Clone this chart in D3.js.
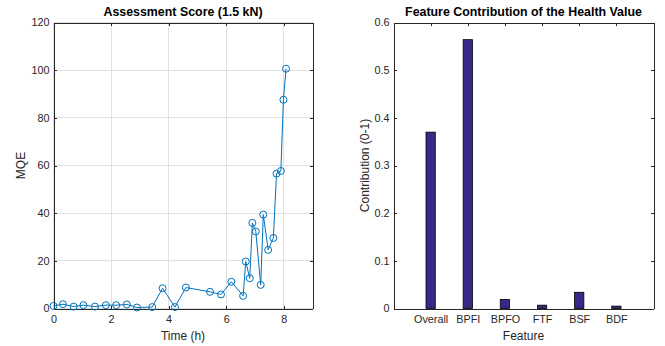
<!DOCTYPE html>
<html>
<head>
<meta charset="utf-8">
<script src="https://cdn.jsdelivr.net/npm/d3@7"></script>
<style>
  html, body { margin: 0; padding: 0; background: #fff; }
  svg { display: block; font-family: "Liberation Sans", Arial, Helvetica, sans-serif; }
</style>
</head>
<body>
<svg id="chart" width="665" height="346"></svg>
<script>
// Assessment score (MQE) over run time
const timeHours = [0, 0.33, 0.70, 1.04, 1.44, 1.82, 2.18, 2.55, 2.90, 3.43, 3.79, 4.22, 4.60,
  5.44, 5.82, 6.18, 6.59, 6.68, 6.82, 6.91, 7.03, 7.20, 7.29, 7.46, 7.64, 7.75, 7.90, 7.99, 8.08];
const mqe = [1.1, 1.8, 0.8, 1.4, 0.8, 1.4, 1.4, 1.7, 0.4, 0.6, 8.5, 0.6, 8.8,
  7.0, 5.9, 11.2, 5.3, 19.7, 12.7, 35.9, 32.3, 9.9, 39.4, 24.6, 29.6, 56.6, 57.7, 87.6, 100.6];
const timeTicks = [0, 2, 4, 6, 8];
const mqeTicks = [0, 20, 40, 60, 80, 100, 120];

// Feature contribution to the health value
const features = ["Overall", "BPFI", "BPFO", "FTF", "BSF", "BDF"];
const contribution = [0.370, 0.564, 0.019, 0.007, 0.034, 0.005];
const contribTicks = [0, 0.1, 0.2, 0.3, 0.4, 0.5, 0.6];

const axisColor = "#262626";
const gridColor = "#e0e0e0";
const lineColor = "#0072bd";
const barColor = "#352a87";
const tickLen = 3;
const tickFont = 10.8;
const labelFont = 12;
const titleFont = 12.4;

const svg = d3.select("#chart");

// Boxed axes with inward ticks on all four sides, optional grid
function boxAxes(g, x, y, xTicks, yTicks, xFmt, yFmt, grid) {
  const [x0, x1] = x.range();
  const [y0, y1] = y.range();
  if (grid) {
    g.append("g").selectAll("line").data(xTicks).join("line")
      .attr("x1", d => x(d)).attr("x2", d => x(d)).attr("y1", y0).attr("y2", y1)
      .attr("stroke", gridColor).attr("stroke-width", 1).attr("shape-rendering", "crispEdges");
    g.append("g").selectAll("line").data(yTicks).join("line")
      .attr("x1", x0).attr("x2", x1).attr("y1", d => y(d)).attr("y2", d => y(d))
      .attr("stroke", gridColor).attr("stroke-width", 1).attr("shape-rendering", "crispEdges");
  }
  const bottom = g.append("g").attr("transform", `translate(0,${y0})`)
    .call(d3.axisBottom(x).tickValues(xTicks).tickFormat(xFmt).tickSizeInner(-tickLen).tickSizeOuter(0).tickPadding(7));
  const top = g.append("g").attr("transform", `translate(0,${y1})`)
    .call(d3.axisTop(x).tickValues(xTicks).tickFormat("").tickSizeInner(-tickLen).tickSizeOuter(0));
  const left = g.append("g").attr("transform", `translate(${x0},0)`)
    .call(d3.axisLeft(y).tickValues(yTicks).tickFormat(yFmt).tickSizeInner(-tickLen).tickSizeOuter(0).tickPadding(4));
  const right = g.append("g").attr("transform", `translate(${x1},0)`)
    .call(d3.axisRight(y).tickValues(yTicks).tickFormat("").tickSizeInner(-tickLen).tickSizeOuter(0));
  [bottom, top, left, right].forEach(a => {
    a.selectAll("path.domain").attr("stroke", axisColor).attr("stroke-width", 1).attr("shape-rendering", "crispEdges");
    a.selectAll(".tick line").attr("stroke", axisColor).attr("stroke-width", 1).attr("shape-rendering", "crispEdges");
    a.selectAll(".tick text").attr("fill", axisColor).attr("font-size", tickFont).attr("font-family", null);
  });
}

// ---------- Left panel: assessment score ----------
const xL = d3.scaleLinear().domain([0, 9]).range([53.5, 312.5]);
const yL = d3.scaleLinear().domain([0, 120]).range([308.5, 22.5]);
const gL = svg.append("g");
boxAxes(gL, xL, yL, timeTicks, mqeTicks, d3.format("d"), d3.format("d"), true);

const pts = timeHours.map((t, i) => [t, mqe[i]]);
gL.append("path")
  .datum(pts)
  .attr("fill", "none").attr("stroke", lineColor).attr("stroke-width", 1)
  .attr("d", d3.line().x(d => xL(d[0])).y(d => yL(d[1])));
gL.append("g").selectAll("circle").data(pts).join("circle")
  .attr("cx", d => xL(d[0])).attr("cy", d => yL(d[1])).attr("r", 3.5)
  .attr("fill", "none").attr("stroke", lineColor).attr("stroke-width", 1);

gL.append("text").attr("x", (xL.range()[0] + xL.range()[1]) / 2).attr("y", 15.5)
  .attr("text-anchor", "middle").attr("font-size", titleFont).attr("font-weight", "bold").attr("fill", "#000")
  .text("Assessment Score (1.5 kN)");
gL.append("text").attr("transform", `translate(25,${(yL.range()[0] + yL.range()[1]) / 2}) rotate(-90)`)
  .attr("text-anchor", "middle").attr("font-size", labelFont).attr("fill", axisColor).text("MQE");
gL.append("text").attr("x", (xL.range()[0] + xL.range()[1]) / 2).attr("y", 339.5)
  .attr("text-anchor", "middle").attr("font-size", labelFont).attr("fill", axisColor).text("Time (h)");

// ---------- Right panel: feature contribution ----------
const xR = d3.scaleLinear().domain([0, 7]).range([393.5, 653.5]);
const yR = d3.scaleLinear().domain([0, 0.6]).range([308.5, 22.5]);
const gR = svg.append("g");
const barW = (xR(1) - xR(0)) * 0.25;
gR.append("g").selectAll("rect").data(features).join("rect")
  .attr("x", (d, i) => xR(i + 1) - barW / 2)
  .attr("width", barW)
  .attr("y", (d, i) => yR(contribution[i]))
  .attr("height", (d, i) => yR(0) - yR(contribution[i]))
  .attr("fill", barColor).attr("stroke", "#000").attr("stroke-width", 0.8);
boxAxes(gR, xR, yR, d3.range(1, features.length + 1), contribTicks,
  d => features[d - 1], d3.format(".1~f"), false);

gR.append("text").attr("x", (xR.range()[0] + xR.range()[1]) / 2).attr("y", 15.5)
  .attr("text-anchor", "middle").attr("font-size", titleFont).attr("font-weight", "bold").attr("fill", "#000")
  .text("Feature Contribution of the Health Value");
gR.append("text").attr("transform", `translate(368.5,${(yR.range()[0] + yR.range()[1]) / 2}) rotate(-90)`)
  .attr("text-anchor", "middle").attr("font-size", labelFont).attr("fill", axisColor).text("Contribution (0-1)");
gR.append("text").attr("x", (xR.range()[0] + xR.range()[1]) / 2).attr("y", 339.5)
  .attr("text-anchor", "middle").attr("font-size", labelFont).attr("fill", axisColor).text("Feature");
</script>
</body>
</html>
